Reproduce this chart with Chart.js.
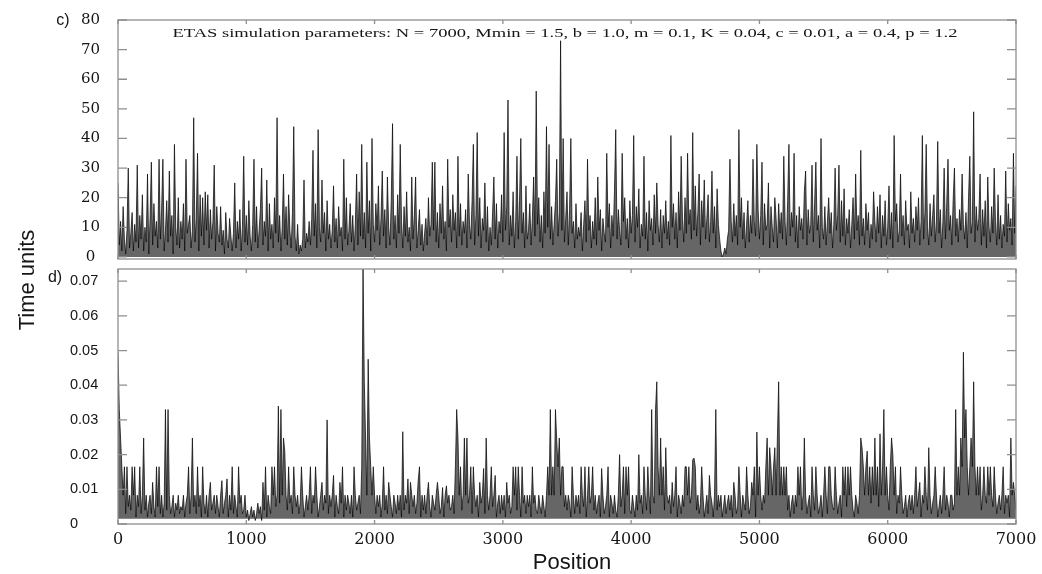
<!DOCTYPE html>
<html>
<head>
<meta charset="utf-8">
<script src="https://cdn.jsdelivr.net/npm/chart.js@4.4.1/dist/chart.umd.min.js"></script>
<style>
  html, body { margin: 0; padding: 0; background: #fff; }
  #wrap { position: relative; width: 1042px; height: 574px; }
  #wrap canvas { position: absolute; left: 0; top: 0; }
</style>
</head>
<body>
<div id="wrap">
  <canvas id="panelC" width="1042" height="574"></canvas>
  <canvas id="panelD" width="1042" height="574"></canvas>
</div>
<script>
// Sequence index runs 0..7000 in steps of 10 (one value per step)
const STEP = 10;

// panel c) inter-event times, time units
const cValues = [
  25,4,12,2,17,6,1,9,30,3,
  8,15,2,11,5,31,3,14,6,21,
  2,10,5,28,1,13,32,4,18,7,
  12,3,33,6,16,33,2,9,19,5,
  29,7,14,1,38,10,4,20,3,12,
  6,18,2,33,8,11,14,3,9,47,
  5,13,35,2,21,7,20,4,22,9,
  21,3,16,6,12,31,2,17,8,5,
  17,4,9,1,15,6,3,13,7,2,
  8,25,3,12,6,16,2,10,34,5,
  14,4,19,7,2,11,33,5,17,3,
  9,16,30,4,12,7,26,2,18,6,
  11,3,20,8,47,5,14,2,10,28,
  6,17,4,21,9,3,15,44,7,2,
  11,1,4,2,6,26,3,8,5,12,
  4,13,36,7,18,3,43,10,5,26,
  8,15,2,19,6,11,3,9,24,5,
  13,3,17,7,10,2,33,6,20,4,
  9,18,5,14,2,11,28,4,22,7,
  38,6,15,3,32,8,19,2,40,11,
  5,18,9,24,4,13,29,7,16,3,
  27,10,4,19,45,6,14,3,21,8,
  38,12,3,17,7,22,5,10,2,27,
  6,14,27,3,9,16,4,11,2,8,
  13,4,20,7,11,32,9,32,5,15,
  3,18,8,24,6,12,2,33,10,16,
  5,21,9,15,3,34,7,18,4,12,
  8,16,3,28,11,6,19,38,4,14,
  42,7,20,3,13,9,25,5,17,2,
  10,4,15,27,6,18,3,12,8,21,
  5,42,9,17,53,4,14,7,22,3,
  12,34,6,19,40,8,15,3,24,6,
  9,18,4,13,27,7,56,11,20,5,
  14,3,22,8,44,10,38,6,17,4,
  11,19,33,7,15,73,9,40,5,13,
  22,4,16,40,8,12,3,18,6,10,
  7,15,2,11,19,5,33,9,14,3,
  12,6,20,4,27,9,16,2,13,8,
  5,35,10,18,3,14,7,22,43,6,
  16,9,4,35,12,20,6,13,3,19,
  8,14,41,5,17,10,23,3,11,7,
  34,6,15,2,19,9,13,4,21,8,
  25,11,5,16,3,14,8,19,6,12,
  4,41,10,18,6,15,3,22,9,34,
  13,5,20,8,35,11,16,6,42,9,
  24,7,15,28,4,19,10,26,6,13,
  21,5,12,29,8,17,3,23,11,6,
  2,0,1,3,1,6,9,33,12,5,
  18,7,14,4,43,10,20,6,15,3,
  11,19,5,14,8,33,12,7,38,16,
  6,14,32,4,18,9,11,25,3,17,
  10,5,20,13,3,18,8,15,6,34,
  12,4,19,38,7,15,10,35,5,14,
  3,17,9,13,6,22,29,4,16,8,
  11,31,5,18,32,9,14,3,40,10,
  6,17,4,12,20,8,15,3,11,30,
  9,14,31,5,19,7,23,4,13,8,
  16,3,11,20,6,28,9,14,4,36,
  7,13,4,18,9,15,3,11,6,22,
  12,5,17,8,21,3,14,7,19,4,
  10,24,6,15,3,41,12,18,5,9,
  28,7,14,4,19,9,11,3,22,8,
  13,5,17,9,20,4,12,41,6,15,
  38,10,4,18,7,14,21,5,12,39,
  8,16,3,12,30,6,18,33,9,14,
  4,19,30,7,13,5,16,9,28,11,
  6,15,3,20,34,8,12,49,5,17,
  9,13,28,4,16,7,19,3,27,10,
  5,17,8,30,12,4,21,6,14,3,
  11,7,29,5,18,9,13,4,35,8,
  24
];

// panel d) values in thousandths of a time unit
const dValuesMilli = [
  49.5,33,24.8,16.5,8.3,16.5,3,16.5,5,8.3,
  4,16.5,8.3,16.5,2,8.3,5,16.5,3,8.3,
  24.8,4,8.3,2,6,8.3,3,12,5,2,
  16.5,5,16.5,3,8.3,2,6,33,4,33,
  8.3,3,5,8.3,2,6,4,8.3,3,5,
  4,8.3,2,6,8.3,16.5,3,8.3,24.8,5,
  8.3,3,16.5,5,8.3,2,16.5,6,3,8.3,
  2,8.3,12,4,6,8.3,3,8.3,5,2,
  8.3,12.5,3,6,8.3,13,2,8.3,4,16.5,
  3,8.3,5,2,16.5,6,8.3,3,4,8.3,
  2,4,1,3,5,2,4,1,3,6,
  3,5,1,12,4,16.5,2,8.3,5,3,
  16.5,8.3,16.5,5,8.3,34,6,33,8.3,24.8,
  21,8.3,4,16.5,6,8.3,3,16.5,8.3,5,
  8.3,3,6,16.5,8.3,2,5,8.3,4,8.3,
  16.5,3,8.3,6,16.5,8.3,2,5,8.3,12,
  4,8.3,6,30,3,8.3,5,8.3,14,2,
  8.3,5,3,12,6,16.5,2,8.3,4,8.3,
  6,3,8.3,2,16.5,8.3,4,6,8.3,3,
  16.5,74,41,24.8,8.3,47.5,24.8,16.5,8.3,16.5,
  8.3,3,8.3,5,8.3,2,6,16.5,4,8.3,
  3,12,8.3,5,2,8.3,6,3,8.3,4,
  8.3,2,26.6,4,8.3,6,13,3,12,8.3,
  5,8.3,3,6,12.5,16.5,2,8.3,4,8.3,
  3,8.3,12,5,2,8.3,6,4,8.3,12,
  8.3,3,5,10.5,2,8.3,11,6,8.3,4,
  5,8.3,3,16.5,33,24.8,8.3,16.5,4,8.3,
  24.8,8.3,24.8,6,8.3,16.5,3,16.5,8.3,5,
  8.3,2,12,6,8.3,16,3,24.8,8.3,4,
  8.3,16.5,5,8.3,14,2,6,8.3,3,8.3,
  4,8.3,2,12,6,8.3,3,5,16.5,8.3,
  16.5,4,16.5,8.3,2,16.5,6,8.3,3,8.3,
  5,8.3,2,16.5,6,8.3,4,3,8.3,5,
  3,8.3,5,2,8.3,16.5,8.3,33,8.3,16.5,
  8.3,33,24,16.5,24.8,8.3,16.5,16.5,5,8.3,
  4,8.3,6,2,16.5,8.3,3,8.3,5,8.3,
  3,16.5,8.3,5,16.5,2,8.3,16.5,6,8.3,
  16.5,4,8.3,3,6,8.3,2,16,8.3,3,
  5,8.3,16.5,2,8.3,6,3,8.3,4,2,
  8.3,20,5,8.3,16.5,3,16.5,8.3,16.5,4,
  3,8.3,5,2,8.3,4,20,6,8.3,3,
  16.5,8.3,4,16.5,8.3,3,33,8.3,6,33,
  41,16.5,8.3,24.8,8.3,16.5,4,22,8.3,6,
  8.3,3,12,5,8.3,16.5,2,8.3,6,3,
  8.3,5,16.5,16.5,8.3,16.5,6,8.3,18.5,19,
  16.5,4,8.3,3,6,16.5,8.3,2,5,8.3,
  3,14,8.3,6,2,8.3,33,4,8.3,5,
  8.3,2,5,8.3,3,6,8.3,4,8.3,2,
  12,8.3,3,5,16.5,8.3,2,8.3,6,4,
  16.5,8.3,3,5,12,8.3,16.5,2,26.5,8.3,
  16.5,8.3,4,8.3,6,16.5,24.8,8.3,22,16.5,
  8.3,16.5,22,8.3,24.8,41,8.3,16.5,8.3,16.5,
  8.3,16.5,4,8.3,2,6,8.3,3,8.3,5,
  16.5,8.3,16.5,4,8.3,24.8,8.3,3,6,8.3,
  2,16.5,8.3,4,16.5,8.3,3,5,8.3,2,
  8.3,16.5,8.3,3,16.5,16.5,8.3,5,4,16.5,
  8.3,3,6,8.3,2,16.5,8.3,16.5,5,16.5,
  8.3,16.5,8.3,4,2,8.3,6,3,8.3,24.8,
  22,16.5,8.3,16.5,21,8.3,16.5,6,16.5,8.3,
  24.8,8.3,16.5,5,26,8.3,16.5,33,8.3,16.5,
  8.3,4,16.5,24.8,20,8.3,16.5,3,8.3,6,
  16.5,8.3,3,5,8.3,2,6,8.3,4,8.3,
  3,8.3,16.5,5,8.3,12,2,8.3,6,16.5,
  8.3,4,22,8.3,3,6,8.3,16.5,8.3,2,
  5,8.3,3,8.3,16.5,4,8.3,6,2,8.3,
  8.3,4,6,33,8.3,16.5,8.3,24.8,16.5,49.5,
  24.8,33,16.5,8.3,16.5,24.8,16.5,41,16.5,8.3,
  16.5,8.3,16.5,4,8.3,16.5,8.3,6,16.5,8.3,
  16.5,8.3,5,16.5,8.3,3,6,8.3,4,8.3,
  16.5,3,8.3,6,8.3,2,24.8,8.3,12,8.3,
  4
];

const xTicks = [0, 1000, 2000, 3000, 4000, 5000, 6000, 7000];
const cTicks = [0, 10, 20, 30, 40, 50, 60, 70, 80];
const dTicks = [0, 0.01, 0.02, 0.03, 0.04, 0.05, 0.06, 0.07];

const titleText = "ETAS simulation parameters: N = 7000, Mmin = 1.5, b = 1.0, m = 0.1, K = 0.04, c = 0.01, a = 0.4, p = 1.2";

const toPoints = (vals, scale) => vals.map((v, i) => ({ x: i * STEP, y: v * scale }));

const frameColor = "#8e8e8e";
const textColor = "#151515";
const lineColor = "rgba(0,0,0,0.78)";
const underColor = "rgba(0,0,0,0.6)";

// box around the plot with the inward tick marks on all four sides
const frameTicks = {
  id: "frameTicks",
  afterDatasetsDraw(chart) {
    const { ctx, chartArea: a } = chart;
    const x = chart.scales.x, y = chart.scales.y;
    ctx.save();
    ctx.strokeStyle = frameColor;
    ctx.lineWidth = 1.3;
    ctx.strokeRect(a.left, a.top, a.right - a.left, a.bottom - a.top);
    ctx.beginPath();
    xTicks.forEach((v) => {
      const px = x.getPixelForValue(v);
      ctx.moveTo(px, a.top); ctx.lineTo(px, a.top + 4);
      ctx.moveTo(px, a.bottom); ctx.lineTo(px, a.bottom - 4);
    });
    y.ticks.forEach((t) => {
      const py = y.getPixelForValue(t.value);
      ctx.moveTo(a.left, py); ctx.lineTo(a.left + 9, py);
      ctx.moveTo(a.right, py); ctx.lineTo(a.right - 9, py);
    });
    ctx.stroke();
    ctx.restore();
  },
};

// labels that sit outside the normal axis boxes
const panelText = {
  id: "panelText",
  afterDraw(chart, args, opts) {
    const ctx = chart.ctx;
    ctx.save();
    ctx.fillStyle = textColor;
    ctx.textBaseline = "middle";
    ctx.textAlign = "center";
    ctx.font = '16px "Liberation Sans"';
    ctx.fillText(opts.letter, opts.letterX, opts.letterY);
    if (opts.title) {
      ctx.font = '13.5px "Liberation Serif"';
      const w = ctx.measureText(titleText).width;
      ctx.translate(565, 33);
      ctx.scale(785 / w, 1);
      ctx.fillText(titleText, 0, 0);
      ctx.setTransform(1, 0, 0, 1, 0, 0);
    }
    if (opts.axisTitles) {
      ctx.font = '22px "Liberation Sans"';
      ctx.fillText("Position", 572, 563);
      ctx.translate(28, 280);
      ctx.rotate(-Math.PI / 2);
      ctx.fillText("Time units", 0, 0);
    }
    ctx.restore();
  },
};

Chart.defaults.animation = false;
Chart.defaults.color = textColor;

new Chart(document.getElementById("panelC"), {
  type: "line",
  data: {
    datasets: [{
      data: toPoints(cValues, 1),
      borderColor: lineColor,
      backgroundColor: underColor,
      fill: "origin",
      borderWidth: 0.9,
      pointRadius: 0,
      tension: 0,
    }],
  },
  options: {
    responsive: false,
    layout: { padding: { left: 0, right: 26, top: 20, bottom: 315 } },
    plugins: {
      legend: { display: false },
      tooltip: { enabled: false },
      panelText: { letter: "c)", letterX: 63, letterY: 21, title: true },
    },
    scales: {
      x: { type: "linear", min: 0, max: 7000, display: false },
      y: {
        min: -0.7,
        max: 80,
        afterFit: (s) => { s.width = 118; },
        afterBuildTicks: (s) => { s.ticks = cTicks.map((v) => ({ value: v })); },
        grid: { display: false },
        border: { display: false },
        ticks: {
          crossAlign: "center",
          padding: 10,
          font: { family: '"DejaVu Serif"', size: 15 },
        },
      },
    },
  },
  plugins: [frameTicks, panelText],
});

new Chart(document.getElementById("panelD"), {
  type: "line",
  data: {
    datasets: [{
      data: toPoints(dValuesMilli, 0.001),
      borderColor: lineColor,
      backgroundColor: underColor,
      fill: { value: 0.0015 },
      borderWidth: 0.9,
      pointRadius: 0,
      tension: 0,
    }],
  },
  options: {
    responsive: false,
    layout: { padding: { left: 70, right: 26, top: 269, bottom: 20 } },
    plugins: {
      legend: { display: false },
      tooltip: { enabled: false },
      panelText: { letter: "d)", letterX: 55, letterY: 278, axisTitles: true },
    },
    scales: {
      x: {
        type: "linear",
        min: 0,
        max: 7000,
        afterFit: (s) => { s.height = 30; },
        afterBuildTicks: (s) => { s.ticks = xTicks.map((v) => ({ value: v })); },
        grid: { display: false },
        border: { display: false },
        ticks: {
          padding: -2,
          maxRotation: 0,
          font: { family: '"DejaVu Serif"', size: 16 },
          callback: (v) => String(v),
        },
      },
      y: {
        min: 0,
        max: 0.0735,
        afterFit: (s) => { s.width = 48; },
        afterBuildTicks: (s) => { s.ticks = dTicks.map((v) => ({ value: v })); },
        grid: { display: false },
        border: { display: false },
        ticks: {
          crossAlign: "far",
          padding: 10,
          font: { family: '"Liberation Sans"', size: 14.5 },
          callback: (v) => (v === 0 ? "0" : v.toFixed(2)),
        },
      },
    },
  },
  plugins: [frameTicks, panelText],
});
</script>
</body>
</html>
